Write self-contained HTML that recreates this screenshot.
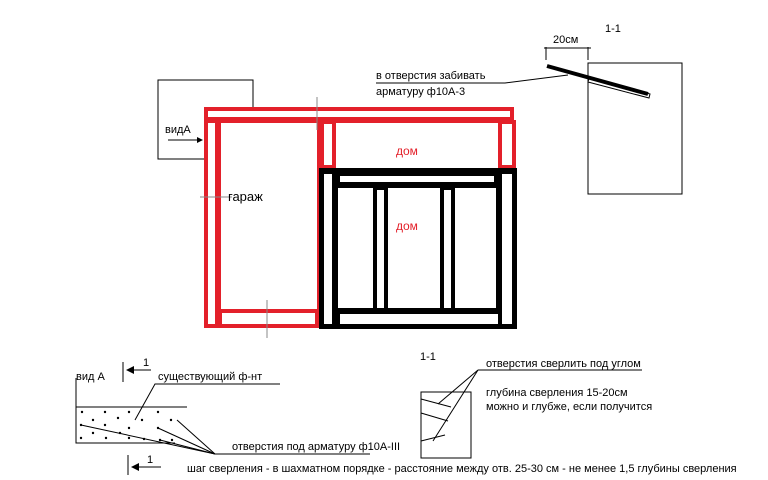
<!DOCTYPE html>
<html><head><meta charset="utf-8"><style>
html,body{margin:0;padding:0;background:#fff;}
svg{display:block;}
text{font-family:"Liberation Sans",Arial,sans-serif;font-size:11px;fill:#000;}
</style></head><body>
<svg width="768" height="480" viewBox="0 0 768 480" xmlns="http://www.w3.org/2000/svg">
<!-- vid A box -->
<g stroke="#000" stroke-width="1" fill="none">
<polyline points="253,107 253,80 158,80 158,159 205,159"/>
<line x1="168" y1="140" x2="200" y2="140"/>
</g>
<polygon points="203,140 197,137 197,143" fill="#000"/>
<text x="165" y="133">видА</text>

<!-- red -->
<g stroke="#e3202a" stroke-width="4" fill="none">
<rect x="206" y="109" width="306" height="10"/>
<rect x="206" y="121" width="11" height="205"/>
<rect x="219" y="121" width="100" height="205"/>
<rect x="220" y="311" width="97" height="15"/>
<rect x="322" y="122" width="12" height="45"/>
<rect x="500" y="122" width="14" height="45"/>
<line x1="334" y1="121" x2="500" y2="121"/>
</g>
<!-- black -->
<g stroke="#000" stroke-width="4" fill="none">
<rect x="321" y="170" width="194" height="157"/>
<rect x="322" y="172" width="12" height="154"/>
<rect x="500" y="172" width="14" height="154"/>
<rect x="338" y="174" width="158" height="10"/>
<rect x="338" y="312" width="162" height="14"/>
<rect x="336" y="186" width="162" height="124"/>
<rect x="375" y="188" width="11" height="122"/>
<rect x="442" y="188" width="11" height="122"/>
</g>
<g stroke="#888" stroke-width="1">
<line x1="317" y1="97" x2="317" y2="130"/>
<line x1="200" y1="197" x2="232" y2="197"/>
<line x1="267" y1="300" x2="267" y2="338"/>
</g>
<text x="228" y="201" style="font-size:13px">гараж</text>
<text x="396" y="155" style="fill:#e3202a;font-size:12px">дом</text>
<text x="396" y="230" style="fill:#e3202a;font-size:12px">дом</text>

<!-- top right -->
<text x="376" y="79">в отверстия забивать</text>
<text x="376" y="95">арматуру ф10А-3</text>
<polyline points="376,83 505,83 568,75" stroke="#000" fill="none"/>
<rect x="588" y="63" width="94" height="131" stroke="#000" fill="none"/>
<polygon points="589,78 650,94 649,98 588,82" stroke="#000" fill="#fff" stroke-width="1"/>
<line x1="547" y1="66" x2="648" y2="94" stroke="#000" stroke-width="4"/>
<g stroke="#000" stroke-width="1">
<line x1="546" y1="47" x2="546" y2="60"/>
<line x1="588" y1="47" x2="588" y2="60"/>
<line x1="544" y1="48" x2="591" y2="48"/>
</g>
<text x="553" y="43">20см</text>
<text x="605" y="32">1-1</text>

<!-- bottom left -->
<text x="76" y="380">вид А</text>
<g stroke="#000" stroke-width="1" fill="none">
<line x1="123" y1="362" x2="123" y2="382"/>
<line x1="131" y1="370" x2="151" y2="370"/>
<line x1="128" y1="455" x2="128" y2="475"/>
<line x1="135" y1="467" x2="161" y2="467"/>
<polyline points="76,378 76,443 175,443"/>
<line x1="76" y1="407" x2="187" y2="407"/>
<polyline points="280,384 155,384 135,420"/>
<polyline points="370,454 215,454 81,425"/>
<line x1="215" y1="454" x2="160" y2="440"/>
<line x1="215" y1="454" x2="158" y2="428"/>
<line x1="215" y1="454" x2="177" y2="420"/>
</g>
<polygon points="126,370 134,366 134,374" fill="#000"/>
<polygon points="131,467 139,463 139,471" fill="#000"/>
<text x="143" y="366">1</text>
<text x="147" y="463">1</text>
<g fill="#000">
<circle cx="82" cy="412" r="1.2"/><circle cx="105" cy="412" r="1.2"/><circle cx="129" cy="412" r="1.2"/><circle cx="158" cy="412" r="1.2"/>
<circle cx="93" cy="420" r="1.2"/><circle cx="118" cy="418" r="1.2"/><circle cx="142" cy="420" r="1.2"/><circle cx="171" cy="420" r="1.2"/>
<circle cx="81" cy="425" r="1.2"/><circle cx="105" cy="425" r="1.2"/><circle cx="129" cy="428" r="1.2"/><circle cx="158" cy="428" r="1.2"/>
<circle cx="93" cy="433" r="1.2"/><circle cx="120" cy="433" r="1.2"/>
<circle cx="81" cy="438" r="1.2"/><circle cx="106" cy="438" r="1.2"/><circle cx="129" cy="438" r="1.2"/><circle cx="144" cy="439" r="1.2"/><circle cx="160" cy="440" r="1.2"/><circle cx="172" cy="440" r="1.2"/>
</g>
<text x="158" y="380">существующий ф-нт</text>
<text x="232" y="450">отверстия под арматуру ф10А-III</text>
<text x="187" y="472">шаг сверления - в шахматном порядке - расстояние между отв. 25-30 см - не менее 1,5 глубины сверления</text>

<!-- bottom 1-1 -->
<text x="420" y="360">1-1</text>
<g stroke="#000" stroke-width="1" fill="none">
<rect x="421" y="392" width="50" height="66"/>
<line x1="478" y1="370" x2="642" y2="370"/>
<line x1="478" y1="370" x2="438" y2="404"/>
<line x1="478" y1="370" x2="433" y2="441"/>
<line x1="421" y1="399" x2="451" y2="407"/>
<line x1="421" y1="413" x2="448" y2="421"/>
<line x1="421" y1="441" x2="445" y2="435"/>
</g>
<text x="486" y="367">отверстия сверлить под углом</text>
<text x="486" y="396">глубина сверления 15-20см</text>
<text x="486" y="410">можно и глубже, если получится</text>
</svg>
</body></html>
